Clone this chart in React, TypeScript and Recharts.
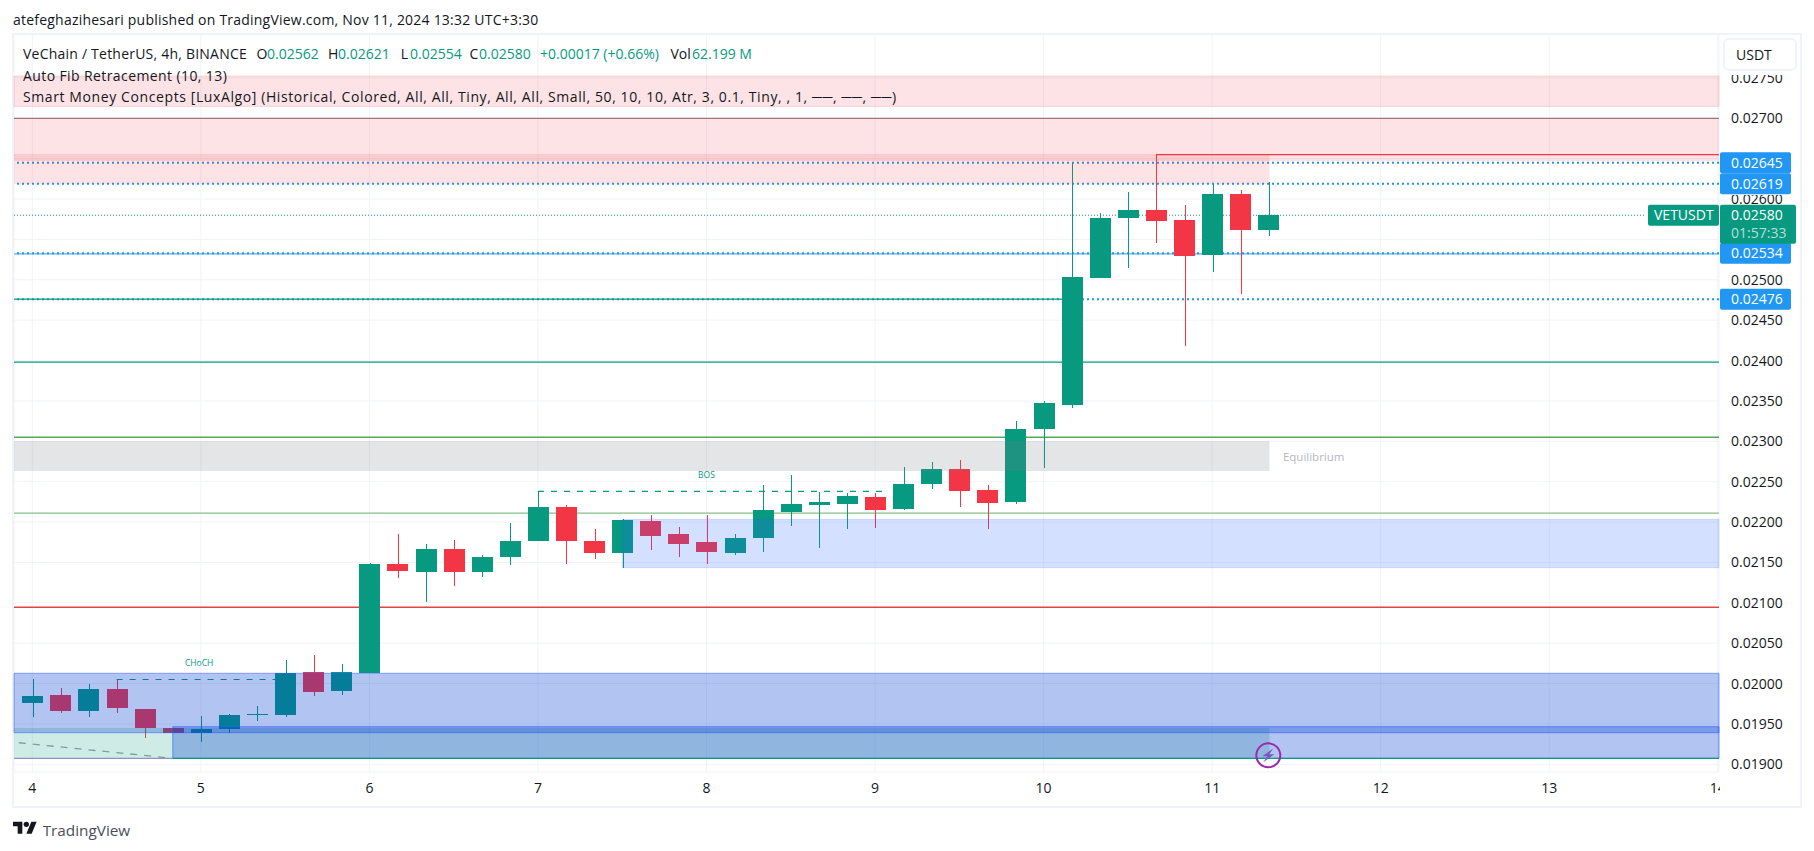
import React from "react";
import {
  ComposedChart,
  Bar,
  XAxis,
  YAxis,
  CartesianGrid,
  ReferenceArea,
  ReferenceLine,
  ReferenceDot,
} from "recharts";

const FONT = "'Open Sans', sans-serif";
const UP = "#089981";
const DOWN = "#f23645";

const opens = [
  0.01976, 0.01986, 0.01966, 0.01993, 0.01969, 0.01945, 0.01939, 0.01944, 0.01961, 0.01961, 0.02014, 0.0199,
  0.02013, 0.02148, 0.02139, 0.02167, 0.02138, 0.02157, 0.02177, 0.02219, 0.02177, 0.02162, 0.02201, 0.02185,
  0.02175, 0.02162, 0.0218, 0.02212, 0.02221, 0.02222, 0.02231, 0.02216, 0.02247, 0.02266, 0.0224, 0.02224,
  0.02315, 0.02346, 0.02503, 0.02576, 0.02586, 0.02574, 0.02531, 0.02606, 0.02562,
];
const highs = [
  0.02006, 0.01995, 0.01999, 0.02005, 0.01969, 0.01945, 0.0196, 0.01962, 0.01972, 0.02029, 0.02035, 0.02024,
  0.02149, 0.02185, 0.02173, 0.02178, 0.02159, 0.02199, 0.02238, 0.02221, 0.02191, 0.02204, 0.02209, 0.02194,
  0.02209, 0.02185, 0.02246, 0.02258, 0.02237, 0.02236, 0.02236, 0.02268, 0.02274, 0.02277, 0.02246, 0.02325,
  0.0235, 0.02645, 0.02583, 0.02609, 0.02655, 0.02593, 0.02619, 0.02611, 0.02621,
];
const lows = [
  0.01958, 0.01964, 0.01958, 0.01963, 0.01932, 0.01939, 0.01928, 0.01939, 0.01953, 0.01959, 0.01984, 0.01986,
  0.02013, 0.02131, 0.02101, 0.02121, 0.02132, 0.02147, 0.02177, 0.02148, 0.02154, 0.02143, 0.02165, 0.02157,
  0.02148, 0.02159, 0.02163, 0.02195, 0.02168, 0.02191, 0.02193, 0.02215, 0.02241, 0.02219, 0.02191, 0.02222,
  0.02267, 0.02341, 0.02503, 0.02514, 0.02546, 0.02418, 0.0251, 0.02482, 0.02554,
];
const closes = [
  0.01985, 0.01966, 0.01993, 0.01969, 0.01945, 0.01939, 0.01944, 0.01961, 0.01962, 0.02013, 0.01989, 0.02014,
  0.02148, 0.02139, 0.02167, 0.02139, 0.02157, 0.02177, 0.02219, 0.02177, 0.02162, 0.02203, 0.02183, 0.02173,
  0.02162, 0.0218, 0.02215, 0.02222, 0.02225, 0.02232, 0.02215, 0.02247, 0.02266, 0.02239, 0.02224, 0.02315,
  0.02347, 0.02504, 0.02577, 0.02586, 0.02572, 0.0253, 0.02606, 0.02562, 0.0258,
];

const dayTicks = [4, 5, 6, 7, 8, 9, 10, 11, 12, 13, 14];
const priceTicks = [
  0.019, 0.0195, 0.02, 0.0205, 0.021, 0.0215, 0.022, 0.0225, 0.023, 0.0235, 0.024, 0.0245, 0.025, 0.0255, 0.026,
  0.0265, 0.027, 0.0275,
];
const hiddenPriceLabels = ["0.02550", "0.02650"];
const DAY_MIN = 3.8914;
const DAY_MAX = 14.0072;
const PRICE_MIN = 0.0189046;
const PRICE_MAX = 0.028044;
const LAST_BAR_EDGE = 11.34;

const candles = opens.map((open, i) => ({
  day: 4 + i / 6,
  open,
  high: highs[i],
  low: lows[i],
  close: closes[i],
  range: [lows[i], highs[i]],
}));

const supplyUpper = { top: 0.027524, bottom: 0.027146 };
const supplyLower = { top: 0.027004, bottom: 0.026471 };
const supplyRecent = { top: 0.026558, bottom: 0.026186 };
const equilibrium = { top: 0.023004, bottom: 0.022632 };
const demandRecent = { top: 0.022034, bottom: 0.021435, from: 7.5 };
const demandBig = { top: 0.020127, bottom: 0.019391 };
const demandLow = { top: 0.019466, bottom: 0.019074, from: 4.8333 };
const discount = { top: 0.01945, bottom: 0.019074 };

const fibLevels = [0.02398, 0.02305, 0.02211, 0.020945];
const alertPrices = [0.02645, 0.02619, 0.02533, 0.02476];
const alertLabels = ["0.02645", "0.02619", "0.02534", "0.02476"];
const lastPrice = 0.0258;

const CandleShape = (props: any) => {
  const { x, y, width, height, payload } = props;
  const h = Math.abs(height);
  const top = height >= 0 ? y : y + height;
  const perUnit = h / (payload.high - payload.low);
  const bodyTop = top + (payload.high - Math.max(payload.open, payload.close)) * perUnit;
  const bodyH = Math.max(1, Math.abs(payload.open - payload.close) * perUnit);
  const color = payload.close >= payload.open ? UP : DOWN;
  const cx = Math.round(x + width / 2);
  const left = Math.round(x + width / 2 - 10.5);
  return (
    <g shapeRendering="crispEdges">
      <rect x={cx} y={top} width={1} height={h} fill={color} />
      <rect x={left} y={Math.round(bodyTop)} width={21} height={Math.max(1, Math.round(bodyH))} fill={color} />
    </g>
  );
};

const XTick = (props: any) => {
  const { x, y, payload } = props;
  return (
    <svg x={0} y={0} width={1720} height={851}>
      <text x={x} y={y + 13} textAnchor="middle" fontFamily={FONT} fontSize={14} fill="#131722">
        {payload.value}
      </text>
    </svg>
  );
};

const YTick = (props: any) => {
  const { y, payload } = props;
  const label = Number(payload.value).toFixed(5);
  if (hiddenPriceLabels.includes(label)) return <g />;
  // 0.02600 sits between two price tags, 0.02750 is cut by the currency button
  const clipTop = label === "0.02600" ? 195 : 75;
  const clipHeight = label === "0.02600" ? 10 : 720;
  return (
    <svg x={1719} y={clipTop} width={80} height={clipHeight}>
      <text x={12} y={y - clipTop + 5} fontFamily={FONT} fontSize={14} fill="#131722">
        {label}
      </text>
    </svg>
  );
};

const alertTag = (label: string) => (props: any) => {
  const { cx, cy } = props;
  return (
    <g>
      <rect x={cx + 1} y={cy - 10.5} width={71} height={21} rx={2} fill="#2196f3" />
      <text x={cx + 12} y={cy + 5} fontFamily={FONT} fontSize={14} fill="#ffffff">
        {label}
      </text>
    </g>
  );
};

const LastPriceTag = (props: any) => {
  const { cx, cy } = props;
  return (
    <g>
      <rect x={cx - 71} y={cy - 10.5} width={71} height={21} rx={2} fill={UP} />
      <text x={cx - 65} y={cy + 5} fontFamily={FONT} fontSize={14} fill="#ffffff">
        VETUSDT
      </text>
      <rect x={cx + 1} y={cy - 10.5} width={76} height={39} rx={2} fill={UP} />
      <text x={cx + 12} y={cy + 5} fontFamily={FONT} fontSize={14} fill="#ffffff">
        0.02580
      </text>
      <text x={cx + 12} y={cy + 23} fontFamily={FONT} fontSize={14} fill="#ffffff" fillOpacity={0.7}>
        01:57:33
      </text>
    </g>
  );
};

const smallText = (label: string, color: string, size: number, anchor: string) => (props: any) => (
  <text x={props.cx} y={props.cy + 3} textAnchor={anchor as any} fontFamily={FONT} fontSize={size} fill={color}>
    {label}
  </text>
);

const BoltMark = (props: any) => {
  const { cx, cy } = props;
  return (
    <g>
      <circle cx={cx} cy={cy} r={12} fill="none" stroke="#9c27b0" strokeWidth={2} />
      <path
        d={`M${cx + 5},${cy - 7} L${cx - 6},${cy + 1} L${cx - 1},${cy + 1} L${cx - 5},${cy + 7} L${cx + 6},${cy - 1} L${cx + 1},${cy - 1} Z`}
        fill="#7e57c2"
      />
    </g>
  );
};

const Txt = ({ x, y, color = "#131722", size = 14, spacing = 0, children }: any) => (
  <div
    style={{
      position: "absolute",
      left: x,
      top: y - 10,
      height: 20,
      lineHeight: "20px",
      whiteSpace: "pre",
      fontFamily: FONT,
      fontSize: size,
      letterSpacing: spacing,
      color,
    }}
  >
    {children}
  </div>
);

export default function App() {
  const Z_LINE = 100;
  const Z_ZONE = 700;
  const Z_TAG = 1200;
  const blueDots = { stroke: "#2196f3", strokeWidth: 2, strokeDasharray: "2 3" };
  return (
    <div style={{ position: "absolute", left: 0, top: 0, width: 1814, height: 851, background: "#fff", overflow: "hidden" }}>
      <div
        style={{
          position: "absolute",
          left: 12,
          top: 33,
          width: 1790,
          height: 775,
          boxSizing: "border-box",
          border: "2px solid #f0f3fa",
        }}
      />
      <div style={{ position: "absolute", left: 0, top: 0 }}>
        <ComposedChart
          width={1814}
          height={851}
          data={candles}
          margin={{ top: 34, left: 14, right: 16, bottom: 44 }}
          barSize={21}
        >
          <CartesianGrid stroke="#f0f3fa" strokeWidth={1} />
          <XAxis
            dataKey="day"
            type="number"
            domain={[DAY_MIN, DAY_MAX]}
            allowDataOverflow
            ticks={dayTicks}
            interval={0}
            tick={<XTick />}
            axisLine={false}
            tickLine={false}
            height={35}
          />
          <YAxis
            type="number"
            orientation="right"
            domain={[PRICE_MIN, PRICE_MAX]}
            allowDataOverflow
            ticks={priceTicks}
            interval={0}
            tick={<YTick />}
            axisLine={false}
            tickLine={false}
            width={79}
          />

          <ReferenceLine y={0.027} stroke="#9b7a7d" strokeWidth={1.3} zIndex={Z_LINE} />
          <ReferenceLine y={fibLevels[0]} stroke={UP} strokeWidth={1.3} zIndex={Z_LINE} />
          <ReferenceLine y={fibLevels[1]} stroke="#57a65f" strokeWidth={1.3} zIndex={Z_LINE} />
          <ReferenceLine y={fibLevels[2]} stroke="#85bf8a" strokeWidth={1.3} zIndex={Z_LINE} />
          <ReferenceLine y={fibLevels[3]} stroke="#e5433f" strokeWidth={1.3} zIndex={Z_LINE} />
          <ReferenceLine y={0.02532} stroke="#5ab0f5" strokeWidth={1.3} zIndex={Z_LINE} />
          {alertPrices.map((p) => (
            <ReferenceLine key={p} y={p} {...blueDots} zIndex={Z_LINE} />
          ))}
          <ReferenceLine
            segment={[
              { x: DAY_MIN, y: alertPrices[3] },
              { x: 10.12, y: alertPrices[3] },
            ]}
            stroke={UP}
            strokeWidth={1.3}
            zIndex={Z_LINE}
          />
          <ReferenceLine
            segment={[
              { x: DAY_MIN, y: lastPrice },
              { x: 13.57, y: lastPrice },
            ]}
            stroke={UP}
            strokeWidth={1}
            strokeDasharray="1 2"
            zIndex={Z_LINE}
          />
          <ReferenceLine
            segment={[
              { x: 10.6667, y: 0.02655 },
              { x: DAY_MAX, y: 0.02655 },
            ]}
            stroke={DOWN}
            strokeWidth={1.3}
            zIndex={Z_LINE}
          />
          <ReferenceLine
            segment={[
              { x: 4.5, y: 0.02005 },
              { x: 5.5, y: 0.02005 },
            ]}
            stroke={UP}
            strokeWidth={1.2}
            strokeDasharray="6 7"
            zIndex={Z_LINE}
          />
          <ReferenceLine
            segment={[
              { x: 7, y: 0.02238 },
              { x: 9.06, y: 0.02238 },
            ]}
            stroke={UP}
            strokeWidth={1.2}
            strokeDasharray="6 7"
            zIndex={Z_LINE}
          />

          <Bar dataKey="range" shape={<CandleShape />} isAnimationActive={false} zIndex={300} />

          <ReferenceArea {...{ x1: DAY_MIN, x2: DAY_MAX, y1: supplyUpper.bottom, y2: supplyUpper.top }} fill={DOWN} fillOpacity={0.14} stroke={DOWN} strokeOpacity={0.15} zIndex={Z_ZONE} />
          <ReferenceArea {...{ x1: DAY_MIN, x2: DAY_MAX, y1: supplyLower.bottom, y2: supplyLower.top }} fill={DOWN} fillOpacity={0.14} strokeOpacity={0} zIndex={Z_ZONE} />
          <ReferenceArea {...{ x1: DAY_MIN, x2: LAST_BAR_EDGE, y1: supplyRecent.bottom, y2: supplyRecent.top }} fill={DOWN} fillOpacity={0.14} strokeOpacity={0} zIndex={Z_ZONE} />
          <ReferenceArea {...{ x1: DAY_MIN, x2: LAST_BAR_EDGE, y1: equilibrium.bottom, y2: equilibrium.top }} fill="#787b86" fillOpacity={0.2} strokeOpacity={0} zIndex={Z_ZONE} />
          <ReferenceArea {...{ x1: demandRecent.from, x2: DAY_MAX, y1: demandRecent.bottom, y2: demandRecent.top }} fill="#2962ff" fillOpacity={0.2} stroke="#2962ff" strokeOpacity={0.15} zIndex={Z_ZONE} />
          <ReferenceArea {...{ x1: DAY_MIN, x2: LAST_BAR_EDGE, y1: discount.bottom, y2: discount.top }} fill={UP} fillOpacity={0.2} strokeOpacity={0} zIndex={Z_ZONE} />
          <ReferenceArea {...{ x1: DAY_MIN, x2: DAY_MAX, y1: demandBig.bottom, y2: demandBig.top }} fill="#003ad4" fillOpacity={0.3} stroke="#2962ff" strokeOpacity={0.5} zIndex={Z_ZONE} />
          <ReferenceArea {...{ x1: demandLow.from, x2: DAY_MAX, y1: demandLow.bottom, y2: demandLow.top }} fill="#003ad4" fillOpacity={0.3} stroke="#2962ff" strokeOpacity={0.6} zIndex={Z_ZONE} />

          <ReferenceLine
            segment={[
              { x: DAY_MIN, y: discount.bottom },
              { x: demandLow.from, y: discount.bottom },
            ]}
            stroke="#8e92c6"
            strokeWidth={1.3}
            zIndex={Z_ZONE + 1}
          />
          <ReferenceLine
            segment={[
              { x: demandLow.from, y: discount.bottom },
              { x: DAY_MAX, y: discount.bottom },
            ]}
            stroke={UP}
            strokeWidth={1.3}
            zIndex={Z_ZONE + 1}
          />
          <ReferenceLine
            segment={[
              { x: 3.92, y: 0.019267 },
              { x: demandLow.from, y: discount.bottom },
            ]}
            stroke="#7e9c9a"
            strokeWidth={1.3}
            strokeDasharray="7 7"
            zIndex={Z_ZONE + 1}
          />

          <ReferenceDot x={4.99} y={0.020255} shape={smallText("CHoCH", UP, 8.5, "middle")} ifOverflow="visible" zIndex={Z_TAG} />
          <ReferenceDot x={8} y={0.02258} shape={smallText("BOS", UP, 8.5, "middle")} ifOverflow="visible" zIndex={Z_TAG} />
          <ReferenceDot x={11.42} y={0.02279} shape={smallText("Equilibrium", "#b4b8c4", 11.5, "start")} ifOverflow="visible" zIndex={Z_TAG} />
          <ReferenceDot x={11.3333} y={0.019111} shape={BoltMark} ifOverflow="visible" zIndex={Z_TAG} />

          {alertPrices.map((p, i) => (
            <ReferenceDot key={p} x={DAY_MAX} y={i === 2 ? 0.02533 : p} shape={alertTag(alertLabels[i])} ifOverflow="visible" zIndex={Z_TAG + 1} />
          ))}
          <ReferenceDot x={DAY_MAX} y={lastPrice} shape={LastPriceTag} ifOverflow="visible" zIndex={Z_TAG + 2} />
        </ComposedChart>
      </div>

      <div
        style={{
          position: "absolute",
          left: 1723,
          top: 38,
          width: 74,
          height: 33,
          boxSizing: "border-box",
          background: "#fff",
          border: "2px solid #f0f3fa",
          borderRadius: 6,
          fontFamily: FONT,
          fontSize: 14,
          lineHeight: "29px",
          paddingLeft: 11,
          color: "#131722",
        }}
      >
        USDT
      </div>

      <Txt x={13} y={20} spacing={0.22}>atefeghazihesari published on TradingView.com, Nov 11, 2024 13:32 UTC+3:30</Txt>
      <Txt x={23} y={54} spacing={0.22}>VeChain / TetherUS, 4h, BINANCE</Txt>
      <Txt x={256.6} y={54}>O</Txt>
      <Txt x={267} y={54} color={UP}>0.02562</Txt>
      <Txt x={328} y={54}>H</Txt>
      <Txt x={338} y={54} color={UP}>0.02621</Txt>
      <Txt x={400.7} y={54}>L</Txt>
      <Txt x={410} y={54} color={UP}>0.02554</Txt>
      <Txt x={469.6} y={54}>C</Txt>
      <Txt x={479} y={54} color={UP}>0.02580</Txt>
      <Txt x={540} y={54} color={UP}>+0.00017 (+0.66%)</Txt>
      <Txt x={670.5} y={54}>Vol</Txt>
      <Txt x={692} y={54} color={UP}>62.199 M</Txt>
      <Txt x={23} y={75.7} spacing={0.4}>Auto Fib Retracement (10, 13)</Txt>
      <Txt x={23} y={96.7} spacing={0.6}>Smart Money Concepts [LuxAlgo] (Historical, Colored, All, All, Tiny, All, All, Small, 50, 10, 10, Atr, 3, 0.1, Tiny, , 1, ──, ──, ──)</Txt>

      <svg style={{ position: "absolute", left: 13, top: 819.3 }} width={24} height={18.67} viewBox="0 0 36 28">
        <path d="M14 22H7V11H0V4h14v18zM28 22h-8l7.5-18h8L28 22z" fill="#131722" />
        <circle cx={20} cy={8} r={4} fill="#131722" />
      </svg>
      <Txt x={42.7} y={830} size={15.3} color="#4a4e59">TradingView</Txt>
    </div>
  );
}
